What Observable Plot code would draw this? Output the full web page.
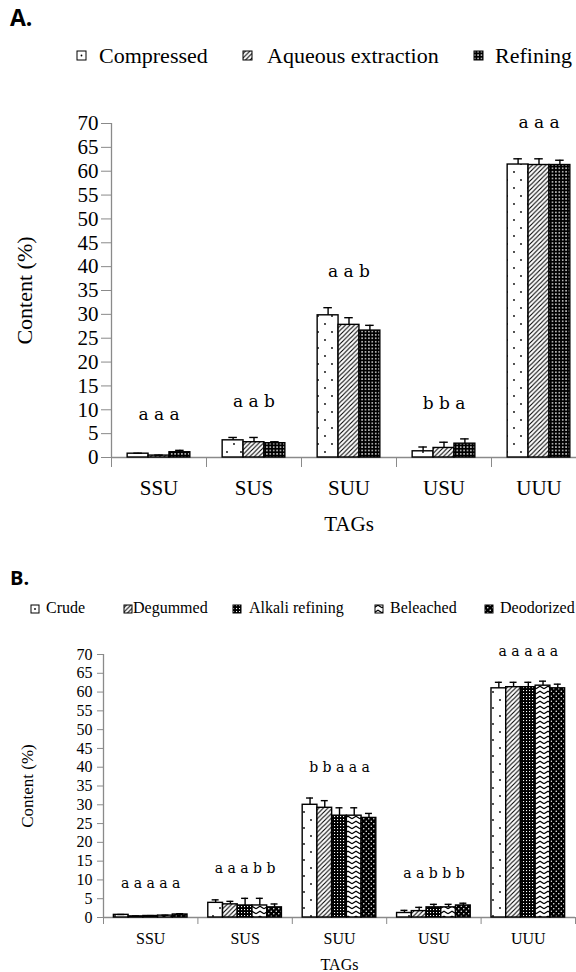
<!DOCTYPE html>
<html><head><meta charset="utf-8">
<script src="https://cdn.jsdelivr.net/npm/d3@7"></script>
<script src="https://cdn.jsdelivr.net/npm/@observablehq/plot@0.6"></script>
<style>
body{margin:0;background:#fff;}
#root{position:relative;width:576px;height:972px;overflow:hidden;font-family:"Liberation Serif","Times New Roman",serif;color:#000;}
.abs{position:absolute;white-space:nowrap;}
.plabel{font-family:"Open Sans",sans-serif;font-weight:700;}
.sw{position:absolute;}
</style></head>
<body><div id="root">
<svg width="0" height="0" style="position:absolute">
<defs>
<pattern id="pDots" patternUnits="userSpaceOnUse" width="14" height="16">
<rect width="14" height="16" fill="#fff"/><circle cx="3" cy="4" r="0.9" fill="#000"/><circle cx="10" cy="12" r="0.9" fill="#000"/>
</pattern>
<pattern id="pHatch" patternUnits="userSpaceOnUse" width="4.5" height="4.5">
<rect width="4.5" height="4.5" fill="#fff"/><path d="M-1,1 L1,-1 M0,4.5 L4.5,0 M3.5,5.5 L5.5,3.5" stroke="#000" stroke-width="1.1"/>
</pattern>
<pattern id="pGrid" patternUnits="userSpaceOnUse" width="3.4" height="3.4">
<rect width="3.4" height="3.4" fill="#000"/><rect x="1" y="1" width="1.4" height="1.4" fill="#fff"/>
</pattern>
<pattern id="pGrid2" patternUnits="userSpaceOnUse" width="3" height="3">
<rect width="3" height="3" fill="#000"/><rect x="1" y="1" width="1.1" height="1.1" fill="#fff"/>
</pattern>
<pattern id="pZig" patternUnits="userSpaceOnUse" width="8" height="5">
<rect width="8" height="5" fill="#fff"/><path d="M0,3.8 L4,1.2 L8,3.8" stroke="#000" stroke-width="1.2" fill="none"/>
</pattern>
<pattern id="pBlackDots" patternUnits="userSpaceOnUse" width="5" height="5">
<rect width="5" height="5" fill="#000"/><circle cx="1.25" cy="1.25" r="0.75" fill="#fff"/><circle cx="3.75" cy="3.75" r="0.75" fill="#fff"/>
</pattern>
</defs></svg>
</div>
<script>
// ---------- data ----------
const tags = ["SSU", "SUS", "SUU", "USU", "UUU"];

const methodsA = ["Compressed", "Aqueous extraction", "Refining"];
const compressed      = [0.8, 3.6, 29.8, 1.3, 61.4];
const compressedErr   = [0.1, 0.6, 1.6, 0.9, 1.2];
const aqueous         = [0.4, 3.2, 27.8, 2.0, 61.3];
const aqueousErr      = [0.1, 1.0, 1.5, 1.2, 1.3];
const refiningA       = [1.1, 3.0, 26.6, 2.9, 61.3];
const refiningAErr    = [0.4, 0.3, 1.1, 1.0, 1.0];
const lettersA = ["a a a", "a a b", "a a b", "b b a", "a a a"];

const methodsB = ["Crude", "Degummed", "Alkali refining", "Beleached", "Deodorized"];
const crude        = [0.7, 3.9, 30.0, 1.2, 61.0];
const crudeErr     = [0.1, 0.8, 1.8, 0.7, 1.6];
const degummed     = [0.3, 3.5, 29.2, 1.7, 61.3];
const degummedErr  = [0.1, 0.8, 1.9, 1.0, 1.3];
const alkali       = [0.4, 3.2, 27.1, 2.7, 61.3];
const alkaliErr    = [0.1, 1.9, 2.1, 0.8, 1.3];
const beleached    = [0.5, 3.2, 27.1, 2.7, 61.7];
const beleachedErr = [0.1, 1.9, 2.1, 0.8, 1.2];
const deodorized   = [0.8, 2.7, 26.5, 3.2, 61.0];
const deodorizedErr= [0.2, 0.9, 1.2, 0.6, 1.1];
const lettersB = ["a a a a a", "a a a b b", "b b a a a", "a a b b b", "a a a a a"];

const yTicks = d3.range(0, 75, 5);
const yLabel = "Content (%)";
const xLabel = "TAGs";

// ---------- drawing ----------
const SERIF = "'Liberation Serif','Times New Roman',serif";
const GRAY = "#8a8a8a";
const root = document.getElementById("root");

function panel(o) {
  const rows = [];
  o.methods.forEach((m, j) => tags.forEach((t, i) =>
    rows.push({tag: t, i, j, method: m, value: o.values[j][i], err: o.errs[j][i]})));
  const n = o.methods.length, w = o.groupFrac / n, pad = (1 - o.groupFrac) / 2;
  const x1 = d => d.i + pad + d.j * w, x2 = d => x1(d) + w, xc = d => x1(d) + w / 2;
  const top = d => d.value + d.err;
  const groupTop = tags.map((t, i) => d3.max(rows.filter(r => r.i === i), top));
  const marks = [
    Plot.ruleY([0], {stroke: GRAY, strokeWidth: 1.3}),
    Plot.ruleX([0], {stroke: GRAY, strokeWidth: 1.3}),
    Plot.axisY({ticks: yTicks, tickSize: o.tickSize, tickPadding: o.tickPad, stroke: GRAY, fill: "#000",
      fontSize: o.tickFont, label: null}),
    Plot.axisX({ticks: d3.range(0, 6), tickSize: o.divSize, tickFormat: () => "", stroke: GRAY, label: null}),
    ...o.methods.map((m, j) => Plot.rectY(rows.filter(r => r.j === j), {
      x1, x2, y1: 0, y2: "value", fill: o.fills[j], stroke: "#000", strokeWidth: 1.4})),
    Plot.ruleX(rows, {x: xc, y1: "value", y2: top, stroke: "#000", strokeWidth: 1.4}),
    Plot.ruleY(rows, {y: top, x1: d => xc(d) - o.cap, x2: d => xc(d) + o.cap, stroke: "#000", strokeWidth: 1.4}),
    Plot.text(tags, {x: (d, i) => i + 0.5, y: (d, i) => Math.max(groupTop[i] + o.letterOffset, 9),
      text: (d, i) => o.letters[i], fontFamily: "'DejaVu Serif',serif", fontSize: o.letterFont, fill: "#000"}),
    Plot.text(tags, {x: (d, i) => i + 0.5, y: 0, dy: o.tagDy, text: d => d, fontSize: o.labelFont, fill: "#000"}),
    Plot.text([xLabel], {x: 2.5, y: 0, dy: o.titleDy, text: d => d, fontSize: o.labelFont, fill: "#000"}),
    Plot.text([yLabel], {x: 0, y: 35, dx: o.yLabelDx, rotate: -90, text: d => d, fontSize: o.yLabelFont, fill: "#000"})
  ];
  const svg = Plot.plot({
    width: o.width, height: o.height,
    marginLeft: o.ml, marginRight: o.mr, marginTop: o.mt, marginBottom: o.mb,
    x: {domain: [0, 5]},
    y: {domain: [0, 70]},
    style: {fontFamily: SERIF, fontSize: o.tickFont + "px", background: "transparent", maxWidth: "none",
      position: "absolute", left: "0px", top: o.top + "px", overflow: "visible"},
    marks
  });
  root.appendChild(svg);
}

panel({
  methods: methodsA,
  values: [compressed, aqueous, refiningA],
  errs: [compressedErr, aqueousErr, refiningAErr],
  letters: lettersA,
  fills: ["url(#pDots)", "url(#pHatch)", "url(#pGrid)"],
  top: 0, width: 586, height: 560, ml: 111, mr: 0, mt: 123, mb: 103,
  groupFrac: 0.66, cap: 0.045, tickSize: 10, tickPad: 3, divSize: 10,
  tickFont: 21, labelFont: 21, yLabelFont: 22, letterFont: 17, letterOffset: 7.5,
  tagDy: 31, titleDy: 67, yLabelDx: -87
});

panel({
  methods: methodsB,
  values: [crude, degummed, alkali, beleached, deodorized],
  errs: [crudeErr, degummedErr, alkaliErr, beleachedErr, deodorizedErr],
  letters: lettersB,
  fills: ["url(#pDots)", "url(#pHatch)", "url(#pGrid2)", "url(#pZig)", "url(#pBlackDots)"],
  top: 560, width: 576, height: 412, ml: 103, mr: 1, mt: 94, mb: 55,
  groupFrac: 0.78, cap: 0.037, tickSize: 6, tickPad: 5, divSize: 7,
  tickFont: 16, labelFont: 16, yLabelFont: 17, letterFont: 14, letterOffset: 8,
  tagDy: 21, titleDy: 47, yLabelDx: -76
});

// ---------- panel labels and legends (HTML) ----------
function addText(txt, left, top, size, cls) {
  const d = document.createElement("div");
  d.className = "abs " + (cls || "");
  d.style.left = left + "px"; d.style.top = top + "px"; d.style.fontSize = size + "px";
  d.style.lineHeight = "1";
  d.textContent = txt;
  root.appendChild(d);
}
function addSwatch(fill, left, top, size, centerDot) {
  const ns = "http://www.w3.org/2000/svg";
  const s = document.createElementNS(ns, "svg");
  s.setAttribute("width", size + 2); s.setAttribute("height", size + 2);
  s.setAttribute("class", "sw");
  s.style.left = left + "px"; s.style.top = top + "px";
  const r = document.createElementNS(ns, "rect");
  r.setAttribute("x", 1); r.setAttribute("y", 1); r.setAttribute("width", size); r.setAttribute("height", size);
  r.setAttribute("fill", centerDot ? "#fff" : fill); r.setAttribute("stroke", "#000"); r.setAttribute("stroke-width", 1);
  s.appendChild(r);
  if (centerDot) {
    const c = document.createElementNS(ns, "circle");
    c.setAttribute("cx", 1 + size / 2); c.setAttribute("cy", 1 + size / 2); c.setAttribute("r", 0.9);
    s.appendChild(c);
  }
  root.appendChild(s);
}

addText("A.", 10, 6, 23, "plabel");
addText("B.", 10, 568, 20, "plabel");

const legA = {fills: ["url(#pDots)", "url(#pHatch)", "url(#pGrid)"], box: [77, 243, 474], text: [99, 267, 495]};
methodsA.forEach((m, j) => {
  addSwatch(legA.fills[j], legA.box[j] - 1, 50, 9, j === 0);
  addText(m, legA.text[j], 45, 22);
});
const legB = {fills: ["url(#pDots)", "url(#pHatch)", "url(#pGrid2)", "url(#pZig)", "url(#pBlackDots)"],
  box: [31, 124, 233, 375, 485], text: [46, 133, 249, 390, 500]};
methodsB.forEach((m, j) => {
  addSwatch(legB.fills[j], legB.box[j] - 1, 604, 8, j === 0);
  addText(m, legB.text[j], 600, 16);
});
</script>
</body></html>
